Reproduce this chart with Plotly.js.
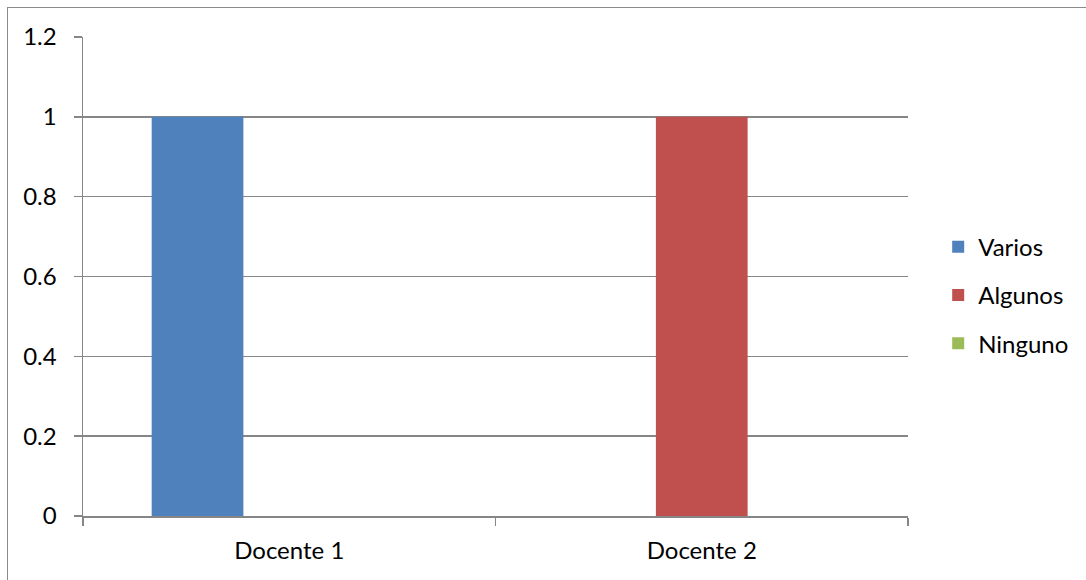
<!DOCTYPE html>
<html>
<head>
<meta charset="utf-8">
<script src="https://cdn.plot.ly/plotly-3.0.1.min.js"></script>
<style>
  html, body { margin: 0; padding: 0; background: #ffffff; }
  #wrap { position: relative; width: 1086px; height: 580px; }
  #chart { width: 1086px; height: 580px; }
  #frame {
    position: absolute; left: 7px; top: 7px; right: -2px; bottom: -2px;
    border-left: 1.5px solid #8a8a8a; border-top: 1.5px solid #8a8a8a;
    pointer-events: none;
  }
</style>
</head>
<body>
<div id="wrap">
  <div id="chart"></div>
  <div id="frame"></div>
</div>
<script>
// Categories and series values
const categories = ["Docente 1", "Docente 2"];
const varios  = [1, 0];
const algunos = [0, 1];
const ninguno = [0, 0];

const seriesNames  = ["Varios", "Algunos", "Ninguno"];
const seriesValues = [varios, algunos, ninguno];
const seriesColors = ["#4F81BD", "#C0504D", "#9BBB59"];

const fontFamily = "Lato, 'Open Sans', sans-serif";
const fontSize = 24;

const traces = seriesNames.map((name, i) => ({
  type: "bar",
  name: name,
  x: categories,
  y: seriesValues[i],
  marker: { color: seriesColors[i], line: { width: 0 } },
  legendgroup: "g" + i,
  hoverinfo: "x+y+name"
}));

const layout = {
  width: 1086,
  height: 580,
  margin: { l: 83, r: 174, t: 37, b: 64 },
  paper_bgcolor: "#ffffff",
  plot_bgcolor: "#ffffff",
  barmode: "group",
  bargap: 0.333,
  bargroupgap: 0,
  font: { family: fontFamily, size: fontSize, color: "#000000" },
  showlegend: true,
  legend: {
    x: 1.0366, xanchor: "left",
    y: 0.461, yanchor: "middle",
    traceorder: "grouped",
    tracegroupgap: 14,
    font: { family: fontFamily, size: fontSize, color: "#000000" },
    itemwidth: 30,
    bgcolor: "rgba(0,0,0,0)"
  },
  xaxis: {
    type: "category",
    showgrid: false,
    showline: true,
    linecolor: "#868686",
    linewidth: 1.5,
    ticks: "outside",
    tickson: "boundaries",
    ticklen: 8,
    tickcolor: "#868686",
    tickwidth: 1.5,
    ticklabelstandoff: 13,
    tickfont: { family: fontFamily, size: fontSize, color: "#000000" },
    zeroline: false,
    fixedrange: true
  },
  yaxis: {
    range: [0, 1.2],
    dtick: 0.2,
    tick0: 0,
    showgrid: true,
    gridcolor: "#868686",
    gridwidth: 1.5,
    showline: true,
    linecolor: "#868686",
    linewidth: 1.5,
    ticks: "outside",
    ticklen: 8,
    tickcolor: "#868686",
    tickwidth: 1.5,
    ticklabelstandoff: 12,
    tickfont: { family: fontFamily, size: fontSize, color: "#000000" },
    zeroline: false,
    fixedrange: true
  }
};

Plotly.newPlot("chart", traces, layout, { displayModeBar: false, staticPlot: true });
</script>
</body>
</html>
